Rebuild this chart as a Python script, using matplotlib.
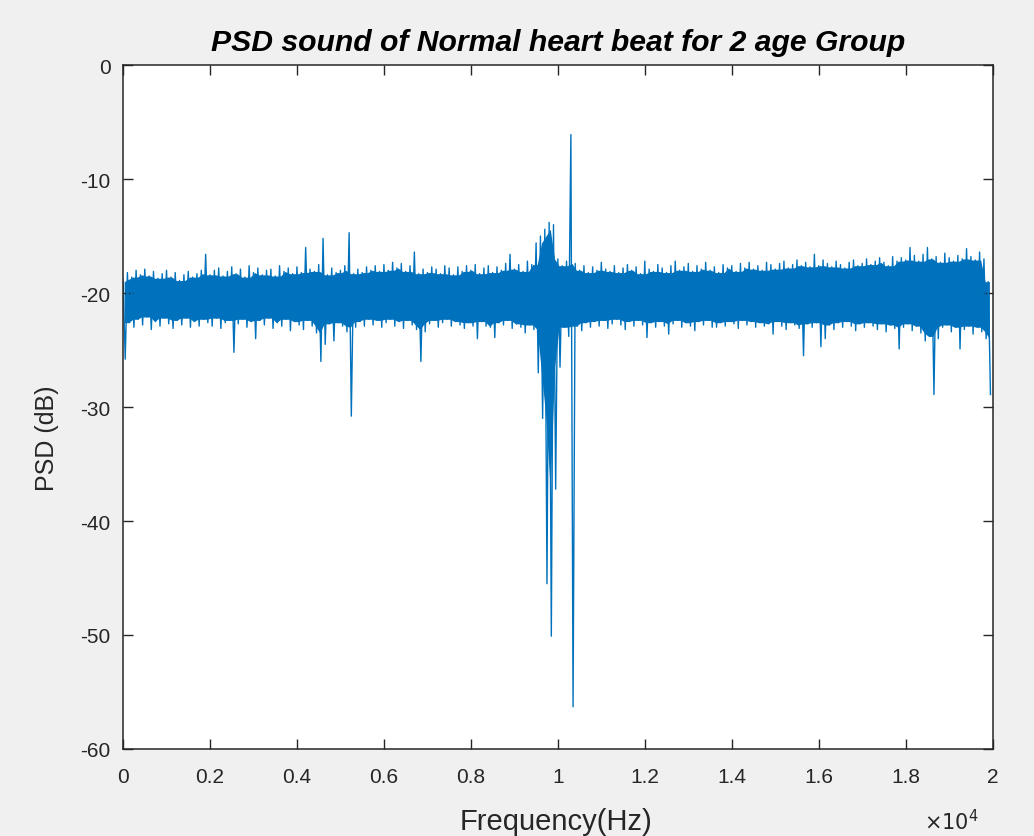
import numpy as np
import matplotlib
matplotlib.use('Agg')
import matplotlib.pyplot as plt
from matplotlib.ticker import FuncFormatter

# --- DATA ---
# frequency bins, 100 Hz wide; for every bin the highest and lowest PSD seen
BIN_HZ = 100
freq_hz = np.arange(0, 20000, BIN_HZ)

psd_hi = [
    -18.8, -18.2, -18.6, -18.0, -18.4, -17.9, -18.5, -18.1, -18.7, -18.3,
    -18.0, -18.6, -18.2, -18.9, -18.4, -18.1, -18.6, -18.3, -18.0, -16.6,
    -18.4, -18.0, -17.8, -18.5, -18.1, -17.7, -18.3, -17.9, -18.6, -17.6,
    -18.2, -17.8, -18.4, -18.0, -17.9, -18.5, -17.6, -18.1, -17.8, -18.3,
    -17.7, -18.2, -16.0, -17.9, -18.1, -17.5, -15.2, -18.4, -17.8, -18.2,
    -18.0, -17.6, -14.7, -18.3, -17.9, -18.2, -17.7, -18.0, -17.6, -18.1,
    -17.5, -18.0, -17.3, -17.8, -17.4, -18.1, -17.6, -16.4, -18.3, -17.9,
    -18.2, -17.7, -17.9, -18.3, -17.6, -17.8, -18.4, -17.7, -18.1, -17.6,
    -18.0, -17.5, -18.3, -17.8, -17.6, -18.2, -17.7, -18.0, -17.4, -16.6,
    -17.9, -17.5, -18.1, -17.2, -17.5, -15.6, -15.0, -14.4, -13.8, -14.0,
    -17.0, -17.6, -17.2, -6.1, -17.4, -18.0, -17.6, -18.2, -17.7, -18.0,
    -17.3, -17.9, -18.1, -17.6, -18.2, -17.8, -17.5, -18.0, -17.7, -18.3,
    -17.2, -17.9, -18.1, -17.5, -17.8, -18.2, -17.6, -17.2, -18.0, -17.7,
    -17.4, -18.1, -17.6, -17.9, -17.3, -18.0, -17.7, -18.2, -17.5, -17.8,
    -17.6, -18.1, -17.4, -17.8, -17.3, -17.9, -17.6, -18.0, -17.3, -17.5,
    -17.9, -17.4, -17.2, -17.8, -17.5, -17.1, -17.6, -17.3, -17.7, -16.6,
    -17.6, -17.1, -17.4, -17.7, -17.2, -17.5, -17.8, -17.3, -17.1, -17.6,
    -17.4, -17.0, -17.5, -17.2, -16.9, -17.3, -17.6, -16.8, -17.2, -16.9,
    -17.1, -16.0, -16.7, -17.2, -16.6, -16.0, -17.0, -16.8, -17.3, -16.5,
    -16.9, -17.2, -16.7, -17.0, -16.1, -16.8, -17.1, -16.4, -17.0, -19.0,
]

psd_lo = [
    -25.8, -22.6, -23.0, -22.3, -22.8, -22.1, -23.2, -22.5, -22.9, -22.2,
    -22.7, -23.1, -22.4, -22.8, -22.2, -23.0, -22.5, -22.9, -22.3, -22.6,
    -22.9, -22.2, -23.1, -22.6, -22.4, -25.2, -22.7, -22.3, -23.0, -22.5,
    -24.0, -22.4, -22.8, -22.2, -23.1, -22.6, -22.9, -22.3, -23.3, -22.5,
    -22.8, -23.2, -22.4, -22.9, -23.5, -26.0, -24.5, -22.7, -24.2, -22.6,
    -22.9, -23.4, -30.8, -23.0, -22.5, -22.9, -22.3, -22.8, -22.4, -23.0,
    -22.6, -22.3, -22.9, -22.5, -23.1, -22.4, -22.8, -23.2, -26.0, -23.4,
    -22.7, -22.4, -23.0, -22.6, -22.3, -22.9, -22.5, -22.8, -23.1, -22.6,
    -22.9, -24.0, -22.5, -22.9, -23.0, -23.9, -22.6, -22.8, -22.4, -23.1,
    -22.7, -23.0, -23.5, -22.8, -23.2, -27.0, -31.0, -45.5, -50.1, -37.2,
    -26.5, -23.0, -23.8, -56.3, -22.9, -23.3, -22.6, -23.0, -22.5, -22.9,
    -22.4, -23.1, -22.7, -22.3, -22.8, -23.2, -22.5, -22.9, -22.4, -22.8,
    -23.9, -22.6, -23.0, -22.5, -22.9, -23.6, -22.7, -22.4, -23.0, -22.6,
    -22.9, -23.3, -22.5, -22.8, -22.4, -23.0, -23.0, -22.6, -22.9, -22.5,
    -22.7, -23.1, -22.4, -22.8, -22.5, -23.0, -22.6, -22.9, -22.7, -23.6,
    -22.5, -22.9, -23.2, -22.6, -22.8, -23.1, -25.5, -22.7, -23.0, -22.6,
    -24.7, -24.0, -22.8, -23.2, -22.6, -23.0, -22.5, -22.9, -23.3, -22.7,
    -23.0, -22.6, -22.9, -23.2, -22.7, -23.4, -22.8, -23.1, -24.9, -23.0,
    -22.7, -23.3, -22.9, -23.5, -24.2, -23.8, -28.9, -24.0, -23.0, -22.8,
    -23.4, -23.0, -24.9, -23.2, -22.9, -23.6, -23.0, -23.4, -24.0, -28.9,
]

x_ticks = np.arange(0, 20001, 2000)
y_ticks = np.arange(-60, 1, 10)

# --- STYLE ---
plt.rcParams['font.family'] = ['Liberation Sans', 'DejaVu Sans']
plt.rcParams['axes.unicode_minus'] = False

BG = '#f0f0f0'
AX_COL = '#262626'
LINE_COL = '#0072bd'

fig = plt.figure(figsize=(10.34, 8.37), dpi=100, facecolor=BG)
ax = fig.add_axes([0.119, 0.104, 0.841, 0.817])

# zigzag max/min of every bin -> dense noisy band like the original psd line
x = np.empty(2 * len(freq_hz))
y = np.empty(2 * len(freq_hz))
x[0::2] = freq_hz
x[1::2] = freq_hz + BIN_HZ / 2
y[0::2] = psd_hi
y[1::2] = psd_lo

# solid core of the band: where neighbouring bins overlap (keeps spikes thin)
hi = np.array(psd_hi)
lo = np.array(psd_lo)
core_hi = np.minimum(np.minimum(hi, np.roll(hi, 1)), np.roll(hi, -1))
core_lo = np.maximum(np.maximum(lo, np.roll(lo, 1)), np.roll(lo, -1))
ax.fill_between(freq_hz + BIN_HZ / 4, core_lo, core_hi, color=LINE_COL, lw=0)
ax.plot(x, y, color=LINE_COL, lw=1.0)

ax.set_xlim(0, 20000)
ax.set_ylim(-60, 0)
ax.set_xticks(x_ticks)
ax.set_yticks(y_ticks)
ax.xaxis.set_major_formatter(FuncFormatter(lambda v, p: f'{v / 1e4:g}'))

ax.tick_params(direction='in', length=7, width=1, color=AX_COL, labelcolor=AX_COL,
               labelsize=15, top=True, right=True, pad=9)
ax.tick_params(axis='x', pad=13)
for s in ax.spines.values():
    s.set_color(AX_COL)
    s.set_linewidth(1.1)

ax.set_title('PSD sound of Normal heart beat for 2 age Group', fontsize=21.7,
             fontweight='bold', fontstyle='italic', color='black', pad=11)
ax.set_xlabel('Frequency(Hz)', fontsize=21, color=AX_COL, va='center')
ax.xaxis.set_label_coords(0.498, -0.105)
ax.set_ylabel('PSD (dB)', fontsize=18, color=AX_COL, va='center')
ax.yaxis.set_label_coords(-0.087, 0.456)
ax.text(0.953, -0.105, r'$\times10^4$', transform=ax.transAxes, fontsize=15,
        color=AX_COL, ha='center', va='center')

fig.savefig('out.png', dpi=100, facecolor=BG)
